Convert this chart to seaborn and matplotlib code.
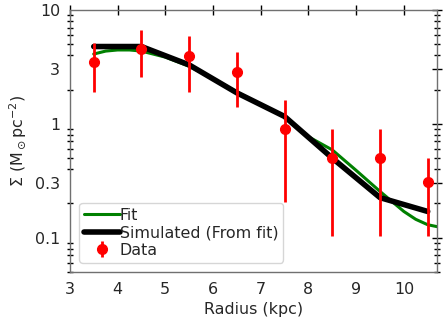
import numpy as np
import pandas as pd
import matplotlib
matplotlib.use("Agg")
import matplotlib.pyplot as plt
import seaborn as sns
from matplotlib.ticker import FixedLocator, FixedFormatter, LogLocator, NullFormatter

# Data
radius = [3.5, 4.5, 5.5, 6.5, 7.5, 8.5, 9.5, 10.5]
data_sigma = [3.5, 4.55, 3.95, 2.84, 0.90, 0.506, 0.506, 0.306]
data_upper = [5.1, 6.67, 5.95, 4.25, 1.62, 0.90, 0.90, 0.50]
data_lower = [1.92, 2.6, 1.92, 1.41, 0.205, 0.103, 0.103, 0.103]

sim_sigma = [4.77, 4.77, 3.29, 1.87, 1.16, 0.50, 0.225, 0.17]

fit_radius = [3.5, 3.75, 4.0, 4.25, 4.5, 5.0, 5.5, 6.0, 6.5, 7.0, 7.5, 7.75,
              8.0, 8.5, 9.0, 9.5, 10.0, 10.25, 10.5, 10.7]
fit_sigma = [4.1, 4.35, 4.45, 4.45, 4.35, 3.85, 3.2, 2.5, 1.9, 1.47, 1.15, 0.95,
             0.77, 0.59, 0.39, 0.255, 0.17, 0.145, 0.13, 0.125]

xticks = [3, 4, 5, 6, 7, 8, 9, 10]
yticks = [0.1, 0.3, 1, 3, 10]
ytick_labels = ["0.1", "0.3", "1", "3", "10"]

sns.set_style("white")
plt.rcParams['font.family'] = ['DejaVu Sans']
plt.rcParams['mathtext.fontset'] = 'dejavusans'

fs = 11.4

fig = plt.figure(figsize=(4.48, 3.2), dpi=100)
ax = fig.add_axes([0.156, 0.15, 0.82, 0.819])

fit_df = pd.DataFrame({"r": fit_radius, "s": fit_sigma})
sim_df = pd.DataFrame({"r": radius, "s": sim_sigma})

sns.lineplot(data=fit_df, x="r", y="s", ax=ax, color="green", lw=2.2, label="Fit",
             sort=False)
sns.lineplot(data=sim_df, x="r", y="s", ax=ax, color="black", lw=4, label="Simulated (From fit)",
             sort=False)

ds = np.array(data_sigma)
yerr = np.vstack([ds - np.array(data_lower), np.array(data_upper) - ds])
ax.errorbar(radius, data_sigma, yerr=yerr, fmt='o', color='red', ms=7,
            elinewidth=2, capsize=0, label="Data", zorder=5)

ax.set_yscale('log')
ax.set_xlim(3, 10.7)
ax.set_ylim(0.05, 10)
ax.xaxis.set_major_locator(FixedLocator(xticks))
ax.yaxis.set_major_locator(FixedLocator(yticks))
ax.yaxis.set_major_formatter(FixedFormatter(ytick_labels))
ax.yaxis.set_minor_locator(LogLocator(base=10, subs=np.arange(2, 10)))
ax.yaxis.set_minor_formatter(NullFormatter())

for sp in ax.spines.values():
    sp.set_color('#707070')
    sp.set_linewidth(1.0)

ax.tick_params(which='major', direction='inout', length=7, width=1, color='black',
               top=True, right=True, labelsize=fs)
ax.tick_params(which='minor', direction='inout', length=4, width=1, color='black',
               left=True, right=True)

ax.set_xlabel("Radius (kpc)", fontsize=fs)
ax.set_ylabel(r"$\Sigma$ (M$_\odot$pc$^{-2}$)", fontsize=fs)

handles, labels = ax.get_legend_handles_labels()
leg = ax.legend(handles, labels, loc='lower left', fontsize=fs, handlelength=2.25,
                handletextpad=0.0, borderaxespad=0.6, labelspacing=0.15,
                borderpad=0.3, frameon=True)
leg.get_frame().set_edgecolor('#cccccc')

fig.savefig("out.png", dpi=100)
